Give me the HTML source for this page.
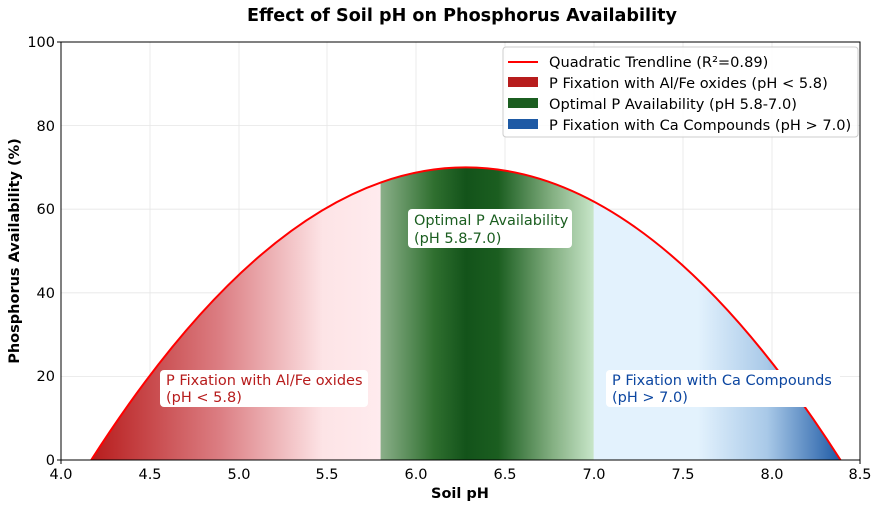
<!DOCTYPE html>
<html><head><style>
body{margin:0;background:#fff;}
svg text{font-family:"DejaVu Sans","Liberation Sans",sans-serif;}
</style></head><body>
<svg width="882" height="507" viewBox="0 0 882 507" xmlns="http://www.w3.org/2000/svg">
<defs>
<clipPath id="cp"><path d="M91.2,460 Q465.8,-125.2 840.5,460 Z"/></clipPath>
<linearGradient id="gr" x1="91" x2="381" y1="0" y2="0" gradientUnits="userSpaceOnUse">
<stop offset="0" stop-color="#b71c1c"/><stop offset="0.45" stop-color="#dc7f84"/><stop offset="0.8" stop-color="#fde4e6"/><stop offset="1" stop-color="#ffebee"/></linearGradient>
<linearGradient id="gg" x1="381" x2="594" y1="0" y2="0" gradientUnits="userSpaceOnUse">
<stop offset="0" stop-color="#8aaf89"/><stop offset="0.25" stop-color="#2f6f2f"/><stop offset="0.4" stop-color="#13531a"/><stop offset="0.55" stop-color="#1b5e20"/><stop offset="0.8" stop-color="#82ae80"/><stop offset="1" stop-color="#c8e6c9"/></linearGradient>
<linearGradient id="gb" x1="594" x2="841" y1="0" y2="0" gradientUnits="userSpaceOnUse">
<stop offset="0" stop-color="#e3f2fd"/><stop offset="0.42" stop-color="#e3f2fd"/><stop offset="0.7" stop-color="#a9c9e8"/><stop offset="1" stop-color="#1e5aa5"/></linearGradient>
</defs>
<text x="462" y="21" font-size="17.6" font-weight="bold" text-anchor="middle">Effect of Soil pH on Phosphorus Availability</text>
<g stroke="#e6e6e6" stroke-width="0.8">
<line x1="150" y1="42" x2="150" y2="460"/><line x1="239" y1="42" x2="239" y2="460"/><line x1="327" y1="42" x2="327" y2="460"/><line x1="416" y1="42" x2="416" y2="460"/><line x1="505" y1="42" x2="505" y2="460"/><line x1="594" y1="42" x2="594" y2="460"/><line x1="683" y1="42" x2="683" y2="460"/><line x1="772" y1="42" x2="772" y2="460"/>
<line x1="61" y1="376.4" x2="860" y2="376.4"/><line x1="61" y1="292.8" x2="860" y2="292.8"/><line x1="61" y1="209.2" x2="860" y2="209.2"/><line x1="61" y1="125.6" x2="860" y2="125.6"/>
</g>
<g clip-path="url(#cp)">
<rect x="90" y="40" width="291" height="421" fill="url(#gr)"/>
<rect x="380.6" y="40" width="213.2" height="421" fill="url(#gg)"/>
<rect x="593.7" y="40" width="248" height="421" fill="url(#gb)"/>
</g>
<path d="M91.2,460 Q465.8,-125.2 840.5,460" fill="none" stroke="#ff0000" stroke-width="2"/>
<rect x="61" y="42" width="799" height="418" fill="none" stroke="#000" stroke-width="1"/>
<g font-size="14.5" text-anchor="middle">
<text x="61" y="479">4.0</text><text x="150" y="479">4.5</text><text x="239" y="479">5.0</text><text x="327" y="479">5.5</text><text x="416" y="479">6.0</text><text x="505" y="479">6.5</text><text x="594" y="479">7.0</text><text x="683" y="479">7.5</text><text x="772" y="479">8.0</text><text x="860" y="479">8.5</text>
</g>
<g font-size="14.5" text-anchor="end">
<text x="55" y="465">0</text><text x="55" y="381">20</text><text x="55" y="298">40</text><text x="55" y="214">60</text><text x="55" y="131">80</text><text x="55" y="47">100</text>
</g>
<g stroke="#000"><line x1="61" y1="460" x2="61" y2="464"/><line x1="860" y1="460" x2="860" y2="464"/><line x1="57" y1="460" x2="61" y2="460"/><line x1="57" y1="42" x2="61" y2="42"/></g>
<text x="460" y="498" font-size="14.5" font-weight="bold" text-anchor="middle">Soil pH</text>
<text transform="translate(19,251) rotate(-90)" font-size="14.5" font-weight="bold" text-anchor="middle">Phosphorus Availability (%)</text>
<rect x="503" y="47" width="355" height="90" rx="3" fill="#fff" fill-opacity="0.85" stroke="#ccc"/>
<line x1="508" y1="62" x2="538" y2="62" stroke="#ff0000" stroke-width="2"/>
<rect x="508" y="77" width="30" height="10" fill="#b71c1c"/>
<rect x="508" y="98" width="30" height="10" fill="#1b5e20"/>
<rect x="508" y="119" width="30" height="10" fill="#1e5aa5"/>
<g font-size="14.6"><text x="549" y="67">Quadratic Trendline (R²=0.89)</text><text x="549" y="88">P Fixation with Al/Fe oxides (pH &lt; 5.8)</text><text x="549" y="109">Optimal P Availability (pH 5.8-7.0)</text><text x="549" y="130">P Fixation with Ca Compounds (pH &gt; 7.0)</text></g>
<rect x="160" y="370" width="208" height="37" rx="4" fill="#fff"/>
<text font-size="14.5" fill="#b71c1c"><tspan x="166" y="385">P Fixation with Al/Fe oxides</tspan><tspan x="166" y="402">(pH &lt; 5.8)</tspan></text>
<rect x="408" y="209" width="164" height="39" rx="4" fill="#fff"/>
<text font-size="14.5" fill="#1b5e20"><tspan x="414" y="225">Optimal P Availability</tspan><tspan x="414" y="243">(pH 5.8-7.0)</tspan></text>
<rect x="606" y="370" width="234" height="37" rx="4" fill="#fff"/>
<text font-size="14.5" fill="#0d47a1"><tspan x="612" y="385">P Fixation with Ca Compounds</tspan><tspan x="612" y="402">(pH &gt; 7.0)</tspan></text>
</svg>
</body></html>
